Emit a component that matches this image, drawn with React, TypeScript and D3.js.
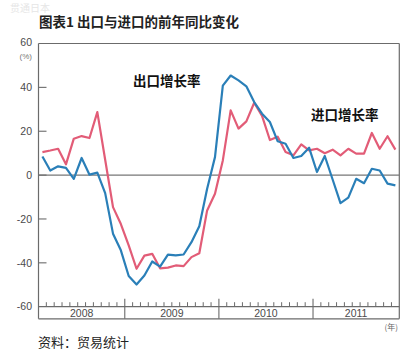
import React from "react";
import * as d3 from "d3";

const months: Date[] = d3.timeMonth.range(new Date(2008, 1, 1), new Date(2011, 11, 1));

// Export growth (blue)
const exportGrowth = [
  8.5, 2.1, 4.0, 3.3, -1.7, 7.8, 0.2, 1.1, -8.2, -26.7, -34.3, -46.0,
  -49.9, -45.8, -39.4, -41.7, -36.3, -36.6, -36.2, -30.6, -23.3, -6.2, 8.2, 40.8,
  45.4, 43.2, 40.5, 33.3, 28.0, 24.2, 15.4, 14.3, 7.8, 8.7, 12.5, 1.4,
  8.7, -2.0, -12.8, -10.3, -1.7, -3.7, 2.9, 2.1, -3.9, -4.7,
];
// Import growth (red)
const importGrowth = [
  10.5, 11.2, 12.0, 4.9, 16.6, 17.8, 16.9, 28.7, 7.0, -14.6, -22.3, -32.0,
  -42.7, -36.7, -35.9, -42.5, -42.2, -41.2, -41.5, -37.4, -35.6, -16.1, -8.5, 6.7,
  29.5, 21.2, 24.5, 33.0, 27.0, 16.0, 17.5, 10.5, 9.0, 14.0, 11.3, 12.0,
  10.0, 11.6, 9.0, 12.0, 9.8, 9.8, 19.2, 12.0, 17.7, 11.6,
];

const yTicks = [60, 40, 20, 0, -20, -40, -60];
const years = [2008, 2009, 2010, 2011];

const title = "图表1 出口与进口的前年同比变化";
const source = "资料：贸易统计";
const exportLabel = "出口增长率";
const importLabel = "进口增长率";

export default function App() {
  const W = 415, H = 353;
  const left = 38.5, right = 399.3, top = 43.5, bottom = 306.7;
  const bandBottom = 318.8;

  const x = d3.scaleBand<number>()
    .domain(months.map((_, i) => i))
    .range([left, right])
    .paddingInner(0)
    .paddingOuter(0);
  const bw = x.bandwidth();
  const cx = (i: number) => (x(i) as number) + bw / 2;
  const y = d3.scaleLinear().domain([-60, 60]).range([bottom, top]);

  const line = d3.line<number>()
    .x((_, i) => cx(i))
    .y((d) => y(d));

  const axisColor = "#6b6b6b";
  const textColor = "#4a4a4a";

  const boundaries = months.map((m, i) => ({ m, i })).filter((d) => d.i > 0);
  const yearStarts = years.map((yr) => {
    const idx = months.findIndex((m) => m.getFullYear() === yr);
    const idxEnd = months.length - 1 - [...months].reverse().findIndex((m) => m.getFullYear() === yr);
    return { yr, x0: idx === 0 ? left : (x(idx) as number), x1: (x(idxEnd) as number) + bw };
  });

  return (
    <svg width={W} height={H} style={{ position: "absolute", left: 0, top: 0, background: "#fff" }}
      fontFamily="Liberation Sans, Arial, sans-serif">
      <rect width={W} height={H} fill="#fff" />
      <text x={10} y={12} fontSize={10} fill="#e6e6e6" fontFamily="Noto Sans CJK SC">贯通日本</text>
      <text x={39} y={27} fontSize={13.5} fontWeight="bold" fill="#222" fontFamily="Noto Sans CJK SC">{title}</text>

      {/* frame */}
      <line x1={left} x2={right} y1={top} y2={top} stroke={axisColor} strokeWidth={1.2} />
      <line x1={right} x2={right} y1={top} y2={bandBottom} stroke={axisColor} strokeWidth={1.2} />
      <line x1={left} x2={left} y1={top} y2={bandBottom} stroke={axisColor} strokeWidth={1.2} />
      <line x1={left} x2={right} y1={bottom} y2={bottom} stroke={axisColor} strokeWidth={1.2} />
      <line x1={left} x2={right} y1={bandBottom} y2={bandBottom} stroke={axisColor} strokeWidth={1.2} />
      <line x1={left} x2={right} y1={y(0)} y2={y(0)} stroke="#777" strokeWidth={1.1} />

      {/* y ticks */}
      {yTicks.map((t) => (
        <g key={t}>
          {t !== 60 && t !== -60 && (
            <line x1={left} x2={left + 8} y1={y(t)} y2={y(t)} stroke={axisColor} strokeWidth={1.1} />
          )}
          <text x={32} y={t === 60 ? y(t) - 1.5 : y(t)} dy="0.35em" textAnchor="end" fontSize={10.5} fill={textColor}>
            {t}
          </text>
        </g>
      ))}
      <text x={32} y={56} dy="0.35em" textAnchor="end" fontSize={8} fill="#777">(%)</text>

      {/* month ticks */}
      {boundaries.map(({ m, i }) => {
        const xb = x(i) as number;
        const isYear = m.getMonth() === 0;
        return isYear ? (
          <line key={i} x1={xb} x2={xb} y1={bottom - 8} y2={bandBottom} stroke={axisColor} strokeWidth={1.1} />
        ) : (
          <line key={i} x1={xb} x2={xb} y1={bottom - 4.5} y2={bottom} stroke={axisColor} strokeWidth={1} />
        );
      })}
      {yearStarts.map((d) => (
        <text key={d.yr} x={(d.x0 + d.x1) / 2} y={(bottom + bandBottom) / 2} dy="0.36em" textAnchor="middle" fontSize={10.5} fill={textColor}>
          {d.yr}
        </text>
      ))}
      <text x={398} y={330} textAnchor="end" fontSize={8} fill="#666" fontFamily="Noto Sans CJK SC">(年)</text>

      {/* series */}
      <path d={line(importGrowth) || ""} fill="none" stroke="#e25c77" strokeWidth={2.2} strokeLinejoin="round" />
      <path d={line(exportGrowth) || ""} fill="none" stroke="#2a7fb8" strokeWidth={2.2} strokeLinejoin="round" />

      <text x={133} y={81} dy="0.35em" fontSize={13.5} fontWeight="bold" fill="#111" fontFamily="Noto Sans CJK SC">{exportLabel}</text>
      <text x={311} y={115} dy="0.35em" fontSize={13.5} fontWeight="bold" fill="#111" fontFamily="Noto Sans CJK SC">{importLabel}</text>

      <text x={38} y={342} dy="0.35em" fontSize={13} fill="#222" fontFamily="Noto Sans CJK SC">{source}</text>
    </svg>
  );
}
